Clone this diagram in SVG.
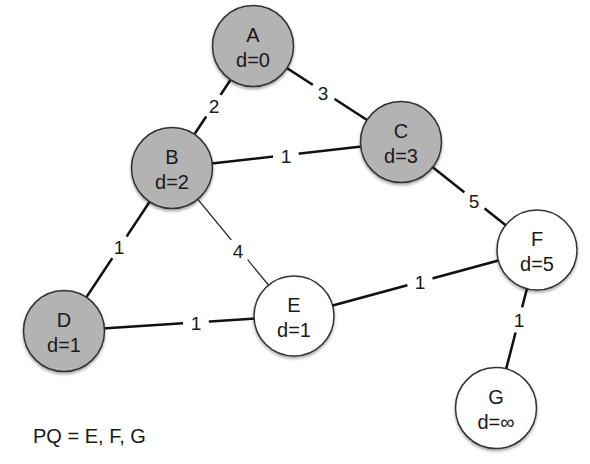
<svg xmlns="http://www.w3.org/2000/svg" width="590" height="464" viewBox="0 0 590 464">
<defs>
<filter id="sh" x="-20%" y="-20%" width="140%" height="150%">
<feDropShadow dx="0" dy="2" stdDeviation="1.5" flood-color="#000" flood-opacity="0.35"/>
</filter>
<style>
.n{stroke:#333;stroke-width:1.5;filter:url(#sh)}
.g{fill:#b3b3b3}
.w{fill:#fff}
.e{stroke:#111;stroke-width:2.5;fill:none}
.t{stroke:#222;stroke-width:1.2;fill:none}
text{font-family:"Liberation Sans",Arial,sans-serif;font-size:19px;fill:#1a1a1a;text-anchor:middle}
.nt{font-size:20px}
.bg{fill:#fff}
</style>
</defs>
<rect width="590" height="464" fill="#fff"/>
<g id="connectors">
<line class="e" x1="253" y1="46" x2="172" y2="168"/>
<line class="e" x1="253" y1="46" x2="401" y2="142"/>
<line class="e" x1="172" y1="168" x2="401" y2="142"/>
<line class="e" x1="401" y1="142" x2="537" y2="250"/>
<line class="e" x1="172" y1="168" x2="64" y2="331"/>
<line class="t" x1="172" y1="168" x2="294" y2="316"/>
<line class="e" x1="64" y1="331" x2="294" y2="316"/>
<line class="e" x1="294" y1="316" x2="537" y2="250"/>
<line class="e" x1="537" y1="250" x2="496" y2="408"/>
<circle class="bg" cx="214" cy="106" r="13"/><text x="214" y="113">2</text>
<circle class="bg" cx="323" cy="93" r="13"/><text x="323" y="100">3</text>
<circle class="bg" cx="286" cy="156" r="13"/><text x="286" y="163">1</text>
<circle class="bg" cx="474" cy="201" r="13"/><text x="474" y="208">5</text>
<circle class="bg" cx="119" cy="247" r="13"/><text x="119" y="254">1</text>
<circle class="bg" cx="238" cy="251" r="13"/><text x="238" y="258">4</text>
<circle class="bg" cx="196" cy="323" r="13"/><text x="196" y="330">1</text>
<circle class="bg" cx="420" cy="282" r="13"/><text x="420" y="289">1</text>
<circle class="bg" cx="519" cy="320" r="13"/><text x="519" y="327">1</text>
</g>
<g id="node-A"><circle class="n g" cx="253" cy="46" r="40.5"/><text class="nt" x="253" y="42">A</text><text class="nt" x="253" y="67">d=0</text></g>
<g id="node-B"><circle class="n g" cx="172" cy="168" r="40.5"/><text class="nt" x="172" y="164">B</text><text class="nt" x="172" y="189">d=2</text></g>
<g id="node-C"><circle class="n g" cx="401" cy="142" r="40.5"/><text class="nt" x="401" y="138">C</text><text class="nt" x="401" y="163">d=3</text></g>
<g id="node-D"><circle class="n g" cx="64" cy="331" r="40.5"/><text class="nt" x="64" y="327">D</text><text class="nt" x="64" y="352">d=1</text></g>
<g id="node-E"><circle class="n w" cx="294" cy="316" r="40"/><text class="nt" x="294" y="312">E</text><text class="nt" x="294" y="337">d=1</text></g>
<g id="node-F"><circle class="n w" cx="537" cy="250" r="40"/><text class="nt" x="537" y="246">F</text><text class="nt" x="537" y="271">d=5</text></g>
<g id="node-G"><circle class="n w" cx="496" cy="408" r="40.5"/><text class="nt" x="496" y="404">G</text><text class="nt" x="496" y="429">d=∞</text></g>
<text class="nt" x="33" y="443" style="text-anchor:start">PQ = E, F, G</text>
</svg>
